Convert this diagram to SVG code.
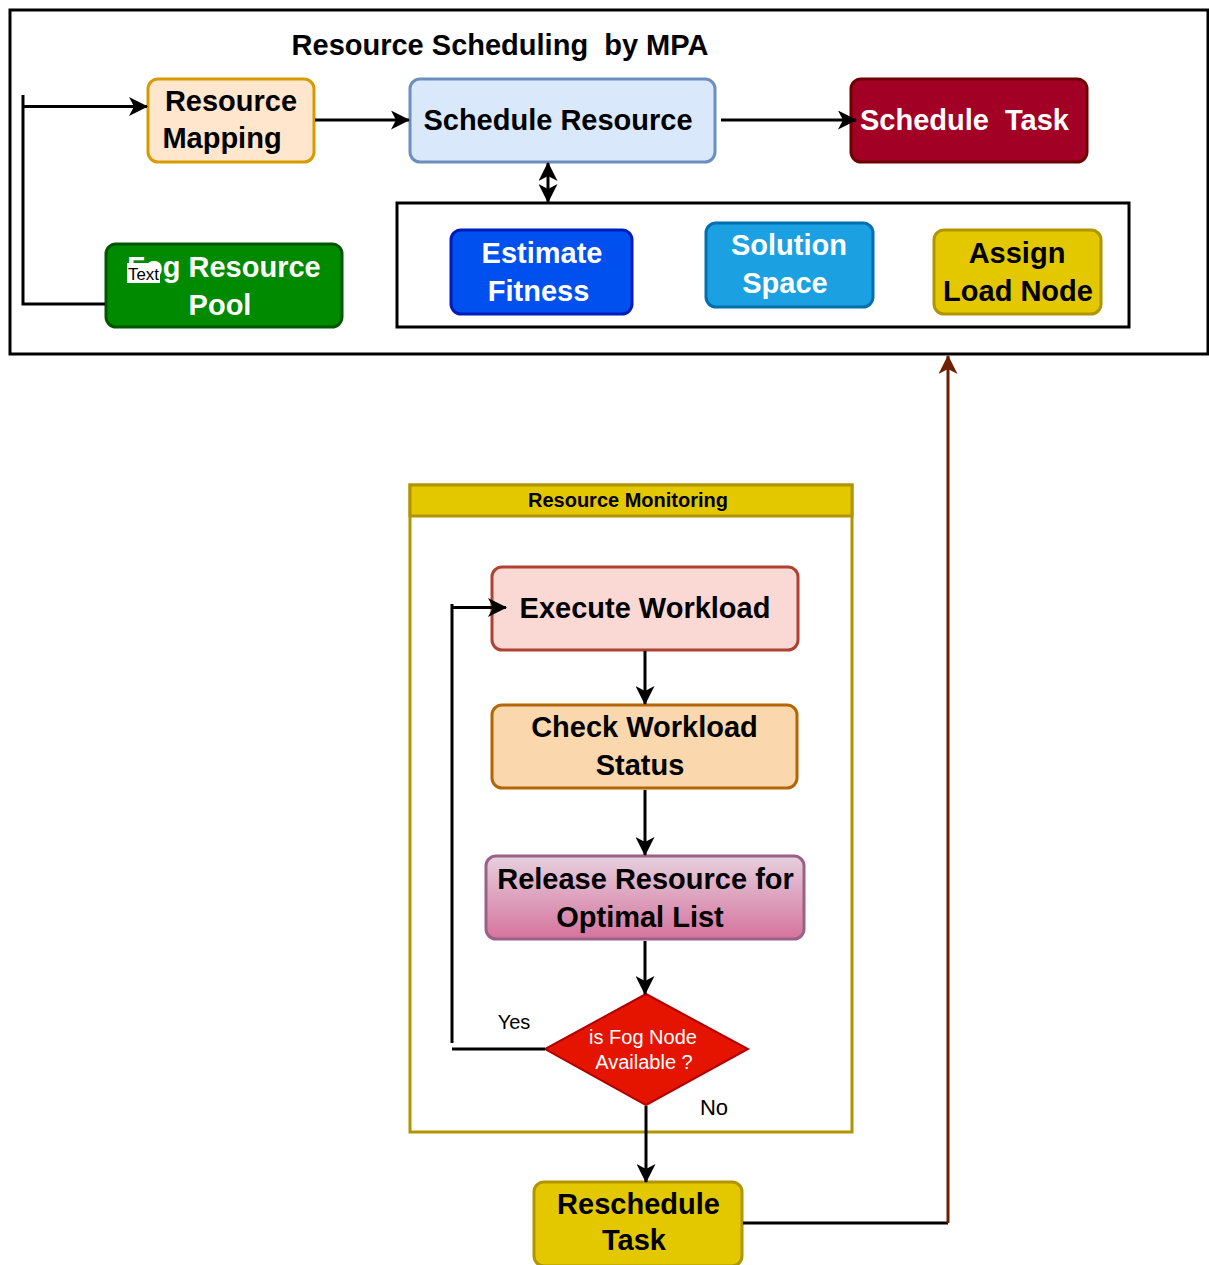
<svg xmlns="http://www.w3.org/2000/svg" width="1209" height="1265" viewBox="0 0 1209 1265">
<defs>
<style>
text{font-family:"Liberation Sans",Arial,Helvetica,sans-serif;text-anchor:middle}
.b{font-weight:bold;font-size:29px}
.w{fill:#fff}
.k{fill:#000}
.box{stroke-width:3}
.ln{fill:none;stroke:#000;stroke-width:3}
.lnb{fill:none;stroke:#6d1f00;stroke-width:3}
.r{font-size:20px}
</style>
<marker id="ah" markerUnits="userSpaceOnUse" markerWidth="19" markerHeight="19" refX="18" refY="9.5" orient="auto-start-reverse" viewBox="0 0 19 19"><path d="M0,0 L19,9.5 L0,19 L5,9.5 Z" fill="#000"/></marker>
<marker id="ahb" markerUnits="userSpaceOnUse" markerWidth="19" markerHeight="19" refX="18" refY="9.5" orient="auto" viewBox="0 0 19 19"><path d="M0,0 L19,9.5 L0,19 L5,9.5 Z" fill="#6d1f00"/></marker>
<linearGradient id="gRel" x1="0" y1="0" x2="0" y2="1"><stop offset="0" stop-color="#e6d0de"/><stop offset="1" stop-color="#d5739d"/></linearGradient>
</defs>
<rect width="1209" height="1265" fill="#fff"/>

<g id="frame-mpa">
<rect x="10" y="10" width="1198" height="344" fill="none" stroke="#000" stroke-width="3"/>
<text class="b" x="500" y="55" xml:space="preserve">Resource Scheduling  by MPA</text>
</g>
<g id="frame-inner">
<rect x="397" y="203" width="732" height="124" fill="none" stroke="#000" stroke-width="3"/>
</g>
<g id="frame-monitoring">
<rect x="410" y="485" width="442" height="647" fill="#fff" stroke="#b09500" stroke-width="3"/>
<rect x="410" y="485" width="442" height="31" fill="#e3c800" stroke="#b09500" stroke-width="3"/>
<text x="628" y="507" style="font-weight:bold;font-size:20px">Resource Monitoring</text>
</g>

<g id="resource-mapping">
<rect class="box" x="148" y="79" width="166" height="83" rx="10" fill="#ffe6cc" stroke="#d79b00"/>
<text class="b" x="231" y="111">Resource</text>
<text class="b" x="222" y="148">Mapping</text>
</g>
<g id="schedule-resource">
<rect class="box" x="410" y="79" width="305" height="83" rx="10" fill="#dae8fc" stroke="#6c8ebf"/>
<text class="b" x="558" y="130">Schedule Resource</text>
</g>
<g id="schedule-task">
<rect class="box" x="851" y="79" width="236" height="83" rx="10" fill="#a20025" stroke="#6f0000"/>
<text class="b w" x="964.5" y="130" xml:space="preserve">Schedule  Task</text>
</g>
<g id="fog-resource-pool">
<rect class="box" x="106" y="244" width="236" height="83" rx="10" fill="#008a00" stroke="#005700"/>
<text class="b w" x="224" y="277">Fog Resource</text>
<text class="b w" x="220" y="315">Pool</text>
<rect x="127" y="263" width="33" height="20" fill="#fff"/>
<text x="143.5" y="280" style="font-size:17px" textLength="31" lengthAdjust="spacingAndGlyphs">Text</text>
</g>
<g id="estimate-fitness">
<rect class="box" x="451" y="230" width="181" height="84" rx="10" fill="#0050ef" stroke="#001dbc"/>
<text class="b w" x="542" y="263">Estimate</text>
<text class="b w" x="538.5" y="301">Fitness</text>
</g>
<g id="solution-space">
<rect class="box" x="706" y="223" width="167" height="84" rx="10" fill="#1ba1e2" stroke="#006eaf"/>
<text class="b w" x="789" y="255">Solution</text>
<text class="b w" x="785" y="293">Space</text>
</g>
<g id="assign-load-node">
<rect class="box" x="934" y="230" width="167" height="84" rx="10" fill="#e3c800" stroke="#b09500"/>
<text class="b" x="1017" y="263">Assign</text>
<text class="b" x="1018" y="301">Load Node</text>
</g>
<g id="execute-workload">
<rect class="box" x="492" y="567" width="306" height="83" rx="10" fill="#fad9d5" stroke="#ae4132"/>
<text class="b" x="645" y="618">Execute Workload</text>
</g>
<g id="check-workload-status">
<rect class="box" x="492" y="705" width="305" height="83" rx="10" fill="#fad7ac" stroke="#b46504"/>
<text class="b" x="644.5" y="737">Check Workload</text>
<text class="b" x="640" y="775">Status</text>
</g>
<g id="release-resource">
<rect class="box" x="486" y="856" width="318" height="83" rx="10" fill="url(#gRel)" stroke="#996185"/>
<text class="b" x="645.5" y="889">Release Resource for</text>
<text class="b" x="640" y="927">Optimal List</text>
</g>
<g id="fog-node-available">
<polygon points="646,994 748,1049 646,1105 545,1049" fill="#e51400" stroke="#b20000" stroke-width="2"/>
<text class="r w" x="643" y="1044">is Fog Node</text>
<text class="r w" x="644" y="1069">Available ?</text>
</g>
<g id="reschedule-task">
<rect class="box" x="534" y="1182" width="208" height="84" rx="10" fill="#e3c800" stroke="#b09500"/>
<text class="b" x="638.5" y="1214">Reschedule</text>
<text class="b" x="634" y="1250">Task</text>
</g>

<g id="connectors">
<path class="ln" d="M105,304 H23 V95"/>
<path class="ln" d="M23,106.5 H147" marker-end="url(#ah)"/>
<path class="ln" d="M315,120 H409" marker-end="url(#ah)"/>
<path class="ln" d="M721,120 H856" marker-end="url(#ah)"/>
<path class="ln" d="M548,163 V202" marker-start="url(#ah)" marker-end="url(#ah)"/>
<path class="ln" d="M645,651 V704" marker-end="url(#ah)"/>
<path class="ln" d="M645,790 V855" marker-end="url(#ah)"/>
<path class="ln" d="M645,941 V994" marker-end="url(#ah)"/>
<path class="ln" d="M545,1049 H452"/>
<path class="ln" d="M452,1043 V604"/>
<path class="ln" d="M452,607.5 H506" marker-end="url(#ah)"/>
<path class="ln" d="M646,1106 V1182" marker-end="url(#ah)"/>
<path class="ln" d="M743,1223 H948"/>
<path class="lnb" d="M948,1223 V356" marker-end="url(#ahb)"/>
<text x="514" y="1029" style="font-size:20px">Yes</text>
<text x="714" y="1115" style="font-size:22px">No</text>
</g>
</svg>
